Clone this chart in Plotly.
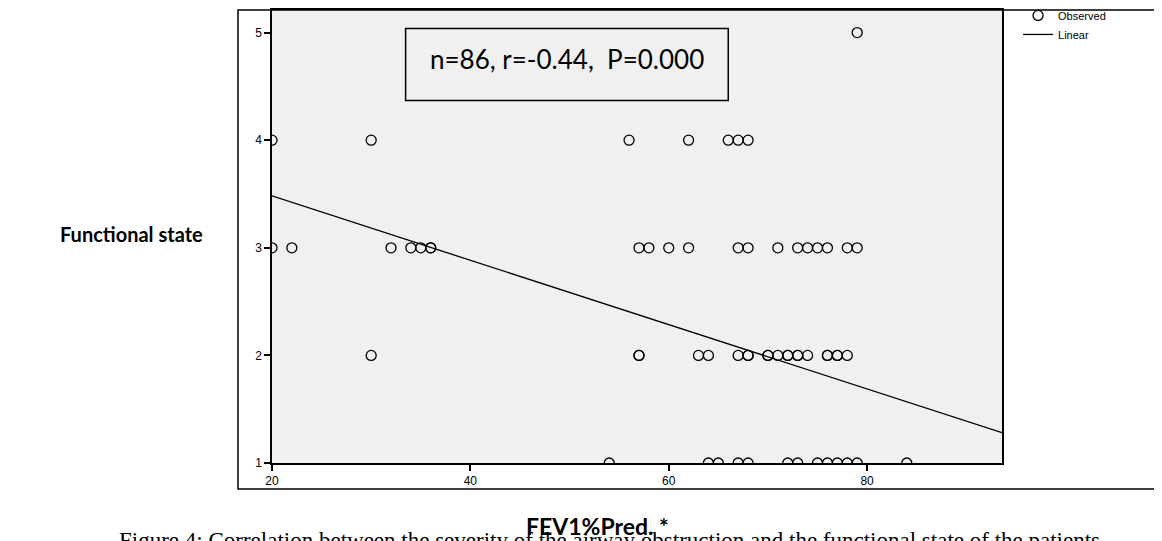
import plotly.graph_objects as go

# FEV1 % predicted vs functional state (one list per functional state row)
fev1_state5 = [79]
fev1_state4 = [20, 30, 56, 62, 66, 67, 68]
fev1_state3 = [20, 22, 32, 34, 35, 36, 36, 57, 58, 60, 62, 67, 68, 71, 73, 74, 75, 76, 78, 79]
fev1_state2 = [30, 57, 57, 63, 64, 67, 68, 68, 70, 70, 71, 72, 72, 73, 73, 74, 76, 76, 77, 77, 78]
fev1_state1 = [54, 64, 65, 67, 68, 72, 73, 75, 76, 77, 78, 79, 84]

# linear fit
fit_intercept = 4.08
fit_slope = -0.0299
x_min, x_max = 20, 93.6

x_ticks = [20, 40, 60, 80]
y_ticks = [1, 2, 3, 4, 5]

stats_text = "n=86, r=-0.44,  P=0.000"
x_title = "FEV1%Pred. *"
y_title = "Functional state"
caption = ("Figure 4: Correlation between the severity of the airway obstruction "
           "and the functional state of the patients")


def build_points():
    xs, ys = [], []
    for state, values in [(5, fev1_state5), (4, fev1_state4), (3, fev1_state3),
                          (2, fev1_state2), (1, fev1_state1)]:
        xs += values
        ys += [state] * len(values)
    return xs, ys


xs, ys = build_points()
fit_x = [x_min, x_max]
fit_y = [fit_intercept + fit_slope * x for x in fit_x]

fig = go.Figure()
fig.add_trace(go.Scatter(
    x=xs, y=ys, mode="markers", name="Observed",
    marker=dict(symbol="circle-open", size=10, color="black", line=dict(width=1.3)),
))
fig.add_trace(go.Scatter(
    x=fit_x, y=fit_y, mode="lines", name="Linear",
    line=dict(color="black", width=1.3),
))

axis_style = dict(
    showline=True, linecolor="black", linewidth=1.5, mirror=True,
    ticks="outside", ticklen=6, tickcolor="black", tickwidth=1.5,
    showgrid=False, zeroline=False,
    tickfont=dict(family="Liberation Sans", size=12, color="black"),
)
fig.update_xaxes(range=[x_min, x_max], tickvals=x_ticks, **axis_style)
fig.update_yaxes(range=[1, 5.21], tickvals=y_ticks, **axis_style)

# the page body adds an 8px margin, so the figure is 8px smaller on each side
fig.update_layout(
    width=1154, height=533,
    margin=dict(l=264, r=160, t=2, b=78, autoexpand=False),
    paper_bgcolor="white", plot_bgcolor="#f0f0f0",
    showlegend=True,
    legend=dict(
        x=1.022, y=1.02, xanchor="left", yanchor="top",
        font=dict(family="Liberation Sans", size=11, color="black"),
        bgcolor="rgba(0,0,0,0)", itemwidth=30, tracegroupgap=0,
    ),
    shapes=[
        # outer frame
        dict(type="rect", xref="paper", yref="paper", x0=-0.0466, x1=1.24, y0=-0.0574, y1=1.0,
             line=dict(color="black", width=1.5), layer="below"),
        # statistics box
        dict(type="rect", xref="paper", yref="paper", x0=0.183, x1=0.625, y0=0.80, y1=0.959,
             line=dict(color="black", width=1.5)),
    ],
    annotations=[
        dict(text=stats_text, xref="paper", yref="paper", x=0.404, y=0.892,
             yanchor="middle", showarrow=False, font=dict(family="Lato", size=26, color="black")),
        dict(text="<b>%s</b>" % y_title, xref="paper", yref="paper", x=-0.092, y=0.505,
             xanchor="right", yanchor="middle", showarrow=False,
             font=dict(family="Lato", size=20, color="black")),
        dict(text=caption, xref="paper", yref="paper", x=-0.213, y=-0.140,
             xanchor="left", yanchor="top", showarrow=False,
             font=dict(family="Liberation Serif", size=23, color="black")),
        dict(text="<b>%s</b>" % x_title, xref="paper", yref="paper", x=0.446, y=-0.103,
             xanchor="center", yanchor="top", showarrow=False,
             font=dict(family="Lato", size=23, color="black")),
    ],
)

fig.write_html("out.html")
